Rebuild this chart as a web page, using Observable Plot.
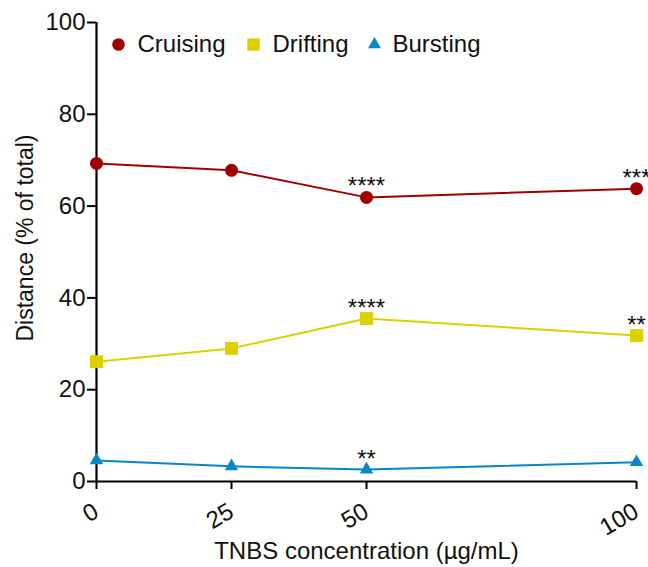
<!DOCTYPE html>
<html>
<head>
<meta charset="utf-8">
<script src="https://cdn.jsdelivr.net/npm/d3@7"></script>
<script src="https://cdn.jsdelivr.net/npm/@observablehq/plot@0.6"></script>
<style>
  html, body { margin: 0; padding: 0; background: #fff; }
  #chart svg { display: block; }
</style>
</head>
<body>
<div id="chart"></div>
<script>
// ---- data ----
const concentrations = [0, 25, 50, 100];
const seriesNames = ["Cruising", "Drifting", "Bursting"];
const cruising = [69.3, 67.8, 61.9, 63.8];
const drifting = [26.1, 29.0, 35.5, 31.8];
const bursting = [4.6, 3.3, 2.6, 4.2];
const seriesColors = ["#a00000", "#ddd000", "#0a85c8"];
const seriesSymbols = ["circle", "square", "triangle"];
const yTicks = [0, 20, 40, 60, 80, 100];
const xTicks = [0, 25, 50, 100];
const sigSeries = ["Cruising", "Cruising", "Drifting", "Drifting", "Bursting"];
const sigConc = [50, 100, 50, 100, 50];
const sigLabels = ["****", "***", "****", "**", "**"];

// ---- build table ----
const valuesBySeries = {Cruising: cruising, Drifting: drifting, Bursting: bursting};
const rows = [];
seriesNames.forEach(s => concentrations.forEach((c, i) => rows.push({series: s, x: c, y: valuesBySeries[s][i]})));
const sig = sigLabels.map((l, i) => ({
  series: sigSeries[i], x: sigConc[i], label: l,
  y: valuesBySeries[sigSeries[i]][concentrations.indexOf(sigConc[i])]
}));

const rBy = {Cruising: 6.5, Drifting: 7.3, Bursting: 5};
const FONT = 24;

// legend layout offsets (px from top-left of frame)
const legendMarkDx = [22, 157, 278];
const legendTextDx = [41, 176, 296];

const legendMarks = seriesNames.flatMap((s, i) => [
  Plot.dot([s], {frameAnchor: "top-left", dx: legendMarkDx[i], dy: 22, fill: seriesColors[i], symbol: seriesSymbols[i], r: s === "Bursting" ? 4.8 : s === "Drifting" ? 7 : 6.3}),
  Plot.text([s], {frameAnchor: "top-left", dx: legendTextDx[i], dy: 22, text: d => d, textAnchor: "start", lineAnchor: "middle", fontSize: FONT, fill: "#111"})
]);

const chart = Plot.plot({
  width: 648,
  height: 567,
  marginLeft: 96,
  marginRight: 12,
  marginTop: 22,
  marginBottom: 86,
  style: {fontFamily: "'Liberation Sans', Arial, sans-serif", fontSize: FONT + "px", color: "#111", background: "#fff"},
  x: {type: "linear", domain: [0, 100], axis: null},
  y: {domain: [0, 100], axis: null},
  marks: [
    Plot.axisY({ticks: yTicks, tickSize: 9, tickPadding: 2, strokeWidth: 2, stroke: "#000", label: null, fontSize: FONT, tickFormat: d => d}),
    Plot.axisX({ticks: xTicks, tickSize: 8, tickPadding: 20, tickRotate: -30, strokeWidth: 2, stroke: "#000", label: null, fontSize: FONT, tickFormat: d => d}),
    Plot.ruleX([0], {stroke: "#000", strokeWidth: 2.2}),
    Plot.ruleY([0], {stroke: "#000", strokeWidth: 2.2}),
    Plot.line(rows, {x: "x", y: "y", z: "series", stroke: d => seriesColors[seriesNames.indexOf(d.series)], strokeWidth: 2}),
    ...seriesNames.map((s, i) => Plot.dot(rows.filter(d => d.series === s), {x: "x", y: "y", fill: seriesColors[i], symbol: seriesSymbols[i], r: rBy[s]})),
    Plot.text(sig, {x: "x", y: "y", text: "label", dy: -3, lineAnchor: "bottom", fontSize: FONT, fill: "#111"}),
    Plot.text(["Distance (% of total)"], {frameAnchor: "left", dx: -71, dy: -14, rotate: -90, textAnchor: "middle", lineAnchor: "middle", text: d => d, fontSize: 23, fill: "#111"}),
    Plot.text(["TNBS concentration (\u00b5g/mL)"], {frameAnchor: "bottom", dy: 70, textAnchor: "middle", lineAnchor: "middle", text: d => d, fontSize: FONT, fill: "#111"}),
    ...legendMarks
  ]
});
document.getElementById("chart").append(chart);
</script>
</body>
</html>
